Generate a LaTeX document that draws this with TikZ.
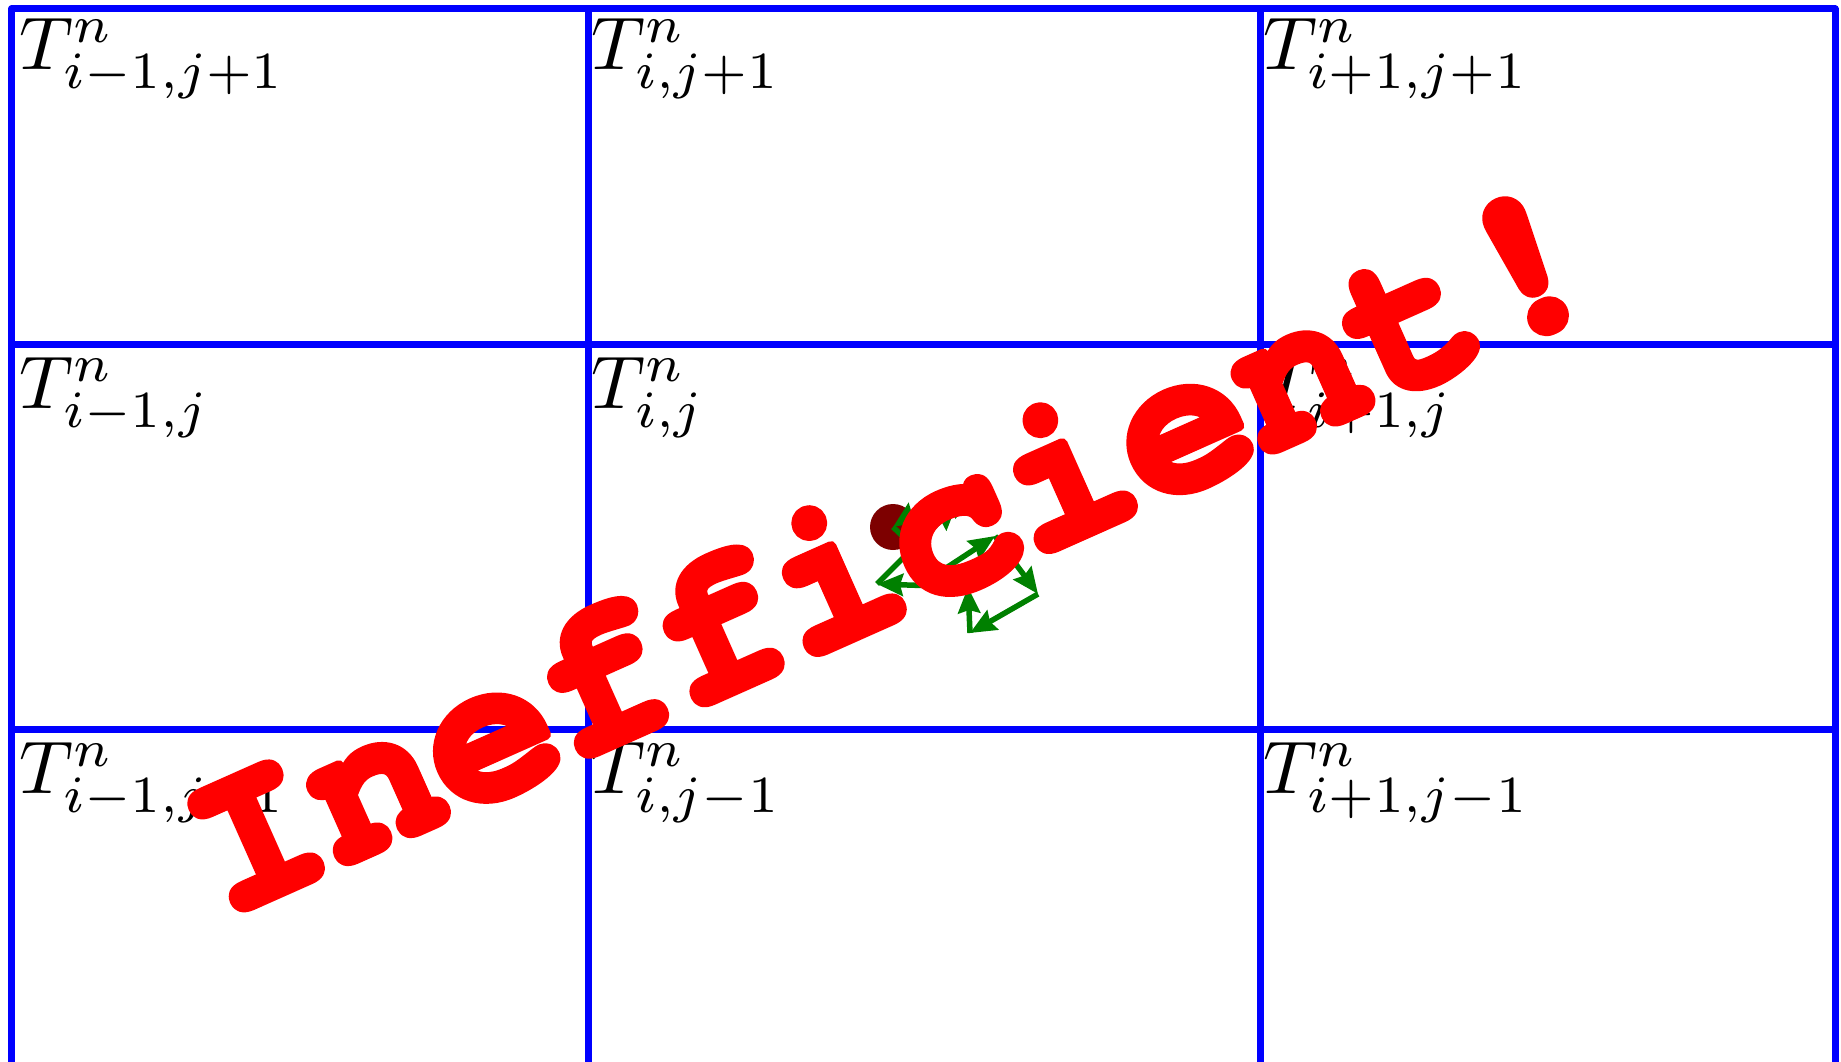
\documentclass[tikz,border=0pt]{standalone}
\usepackage{fontspec}
\usetikzlibrary{arrows.meta}
\newfontfamily\ineff{texgyrecursor-bold.otf}[FakeBold=5, Ligatures={NoCommon,NoRequired,NoContextual}]
\definecolor{gridblue}{RGB}{0,0,255}
\definecolor{walkgreen}{RGB}{0,128,0}
\definecolor{dotred}{RGB}{125,0,0}
\definecolor{stampred}{RGB}{255,0,0}
\tikzset{
  gridline/.style={draw=gridblue, line width=0.14cm, line join=round, line cap=round},
  celllabel/.style={anchor=north west, inner sep=0pt, scale=4.25},
  walkstep/.style={draw=walkgreen, line width=0.11cm, -{Stealth[length=0.52cm,width=0.44cm,inset=0.06cm]}},
  stamp/.style={text=stampred, font=\ineff\fontsize{120}{120}\selectfont, rotate=24, inner sep=0pt}
}
\begin{document}
\begin{tikzpicture}[x=0.02cm, y=-0.02cm]
\useasboundingbox (0,0) rectangle (1841,1061);
% grid
\draw[gridline] (11.5,1070) -- (11.5,9) -- (1835,9) -- (1835,1070);
\draw[gridline] (588,9) -- (588,1070);
\draw[gridline] (1260,9) -- (1260,1070);
\draw[gridline] (11.5,344.5) -- (1835,344.5);
\draw[gridline] (11.5,729) -- (1835,729);
% labels
\node[celllabel] (l00) at (18,17) {$T^n_{i-1,j+1}$};
\node[celllabel] (l10) at (590,17) {$T^n_{i,j+1}$};
\node[celllabel] (l20) at (1262,17) {$T^n_{i+1,j+1}$};
\node[celllabel] (l01) at (18,356) {$T^n_{i-1,j}$};
\node[celllabel] (l11) at (590,356) {$T^n_{i,j}$};
\node[celllabel] (l21) at (1262,356) {$T^n_{i+1,j}$};
\node[celllabel] (l02) at (18,741) {$T^n_{i-1,j-1}$};
\node[celllabel] (l12) at (590,741) {$T^n_{i,j-1}$};
\node[celllabel] (l22) at (1262,741) {$T^n_{i+1,j-1}$};
% particle
\fill[dotred] (893,527) circle (23);
\coordinate (w0) at (893,527);
\coordinate (w1) at (940,572);
\coordinate (w2) at (995,536);
\coordinate (w3) at (1038,594);
\coordinate (w4) at (970,633);
\coordinate (w5) at (968,587);
\coordinate (w6) at (877,584);
\coordinate (w7) at (957,504);
\coordinate (w8) at (945,492);
\draw[walkstep] (w0) -- (w1);
\draw[walkstep] (w1) -- (w2);
\draw[walkstep] (w2) -- (w3);
\draw[walkstep] (w3) -- (w4);
\draw[walkstep] (w4) -- (w5);
\draw[walkstep] (w5) -- (w6);
\draw[walkstep] (w6) -- (w7);
\draw[walkstep] (w7) -- (w8);
\draw[walkstep] (w8) -- (w0);
% stamp
\node[stamp] (stampnode) at (890,549) {\special{pdf:literal direct 1 j 1 J}Inefficient!};
\end{tikzpicture}
\end{document}
